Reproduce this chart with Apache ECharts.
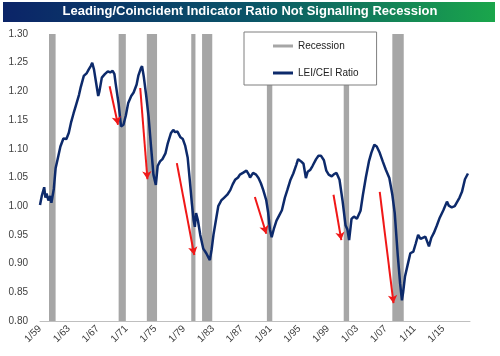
<!DOCTYPE html>
<html>
<head>
<meta charset="utf-8">
<script src="https://cdn.jsdelivr.net/npm/echarts@6/dist/echarts.min.js"></script>
<style>html,body{margin:0;padding:0;background:#fff;}#c{width:500px;height:356px;}</style>
</head>
<body>
<div id="c"></div>
<script>
var titleText = 'Leading/Coincident Indicator Ratio Not Signalling Recession';
var seriesName = 'LEI/CEI Ratio';
var recessionName = 'Recession';

var months = ['1959-01','1959-04','1959-08','1959-10','1959-12','1960-03','1960-06','1960-08','1960-12','1961-03','1961-07','1961-11','1962-04','1962-09','1963-01','1963-05','1963-09','1964-01','1964-06','1964-09','1965-02','1965-07','1965-10','1966-02','1966-04','1966-07','1966-10','1967-02','1967-04','1967-08','1968-01','1968-06','1968-10','1969-02','1969-05','1969-07','1969-12','1970-04','1970-08','1970-12','1971-04','1971-09','1972-01','1972-06','1972-09','1973-01','1973-03','1973-06','1973-10','1974-02','1974-06','1974-10','1975-02','1975-05','1975-09','1976-01','1976-06','1976-10','1977-03','1977-07','1977-10','1978-02','1978-07','1978-11','1979-03','1979-07','1979-11','1980-02','1980-05','1980-07','1980-09','1980-12','1981-04','1981-09','1982-02','1982-06','1982-08','1982-11','1983-02','1983-06','1983-10','1984-03','1984-08','1985-01','1985-06','1985-10','1986-02','1986-07','1986-10','1987-03','1987-09','1988-01','1988-03','1988-08','1989-01','1989-05','1989-09','1990-01','1990-06','1990-09','1990-12','1991-03','1991-07','1991-11','1992-04','1992-08','1993-01','1993-05','1993-10','1994-03','1994-08','1994-11','1995-04','1995-08','1995-12','1996-03','1996-07','1996-11','1997-05','1997-09','1998-01','1998-06','1998-10','1999-02','1999-07','1999-11','2000-03','2000-08','2001-01','2001-06','2001-09','2001-12','2002-04','2002-08','2003-01','2003-07','2003-11','2004-04','2004-09','2005-01','2005-06','2005-10','2006-03','2006-08','2007-01','2007-07','2007-12','2008-04','2008-09','2009-01','2009-04','2009-06','2009-09','2010-02','2010-06','2010-11','2011-03','2011-07','2011-11','2012-02','2012-07','2013-01','2013-05','2013-09','2014-02','2014-07','2015-01','2015-07','2015-10','2016-03','2016-08','2016-11','2017-04','2017-08','2018-01','2018-04','2018-06'];

var ratio = [1.002,1.018,1.033,1.015,1.022,1.010,1.018,1.006,1.030,1.066,1.085,1.104,1.118,1.117,1.128,1.147,1.162,1.176,1.194,1.208,1.227,1.232,1.238,1.245,1.250,1.238,1.218,1.192,1.200,1.224,1.230,1.235,1.233,1.236,1.230,1.214,1.178,1.139,1.142,1.158,1.180,1.192,1.198,1.212,1.228,1.240,1.244,1.225,1.192,1.155,1.104,1.055,1.037,1.070,1.078,1.082,1.092,1.110,1.127,1.133,1.129,1.130,1.120,1.117,1.105,1.085,1.040,1.005,0.975,0.964,0.988,0.976,0.950,0.926,0.918,0.910,0.906,0.925,0.950,0.975,1.000,1.010,1.015,1.020,1.028,1.038,1.046,1.050,1.055,1.058,1.062,1.055,1.050,1.058,1.055,1.049,1.040,1.028,1.010,0.990,0.960,0.946,0.962,0.975,0.985,0.993,1.015,1.028,1.045,1.057,1.072,1.082,1.078,1.074,1.049,1.060,1.063,1.070,1.082,1.088,1.088,1.080,1.062,1.055,1.052,1.056,1.058,1.046,1.010,0.967,0.960,0.941,0.978,0.982,0.978,0.992,1.020,1.051,1.078,1.093,1.107,1.104,1.093,1.078,1.064,1.049,1.020,0.988,0.915,0.865,0.836,0.850,0.877,0.900,0.918,0.921,0.935,0.950,0.943,0.942,0.947,0.930,0.945,0.953,0.966,0.980,0.993,1.008,1.001,0.998,1.000,1.003,1.015,1.025,1.047,1.050,1.057];

var recessions = [['1960-04','1961-02'],['1969-12','1970-11'],['1973-11','1975-03'],['1980-01','1980-07'],['1981-07','1982-11'],['1990-07','1991-03'],['2001-03','2001-11'],['2007-12','2009-06']];

// red arrows annotations: [start month, start value, end month, end value]
var arrows = [['1968-09',1.209,'1969-11',1.142],['1972-12',1.206,'1973-12',1.047],['1978-01',1.075,'1980-06',0.915],['1988-11',1.016,'1990-06',0.952],['1999-10',1.020,'2000-11',0.941],['2006-03',1.025,'2008-02',0.831]];

var yTicks = [0.80,0.85,0.90,0.95,1.00,1.05,1.10,1.15,1.20,1.25,1.30];
var baseYear = 1959;

function toT(m){ var p = m.split('-'); return (+p[0] - baseYear) + (+p[1] - 1) / 12; }

var lineData = months.map(function(m,i){ return [toT(m), ratio[i]]; });
var recAreas = recessions.map(function(r){ return [{xAxis: toT(r[0])}, {xAxis: toT(r[1]) + 1/12}]; });
var arrowLines = arrows.map(function(a){ return [{coord:[toT(a[0]), a[1]]},{coord:[toT(a[2]), a[3]]}]; });

var chart = echarts.init(document.getElementById('c'), null, {renderer:'canvas'});
var font = 'Liberation Sans';
chart.setOption({
  animation: false,
  backgroundColor: '#fff',
  textStyle: {fontFamily: font},
  graphic: [
    {type:'rect', left:3, top:2, shape:{width:492, height:20}, z:10,
     style:{fill: new echarts.graphic.LinearGradient(0,0,1,0,[{offset:0,color:'#0b2468'},{offset:0.5,color:'#0a5468'},{offset:1,color:'#1aa64b'}])}},
    {type:'text', left:'center', top:5, z:11,
     style:{text: titleText, fill:'#fff', font:'bold 13px "Liberation Sans"'}}
  ],
  legend: {
    orient:'vertical', left:244, top:32,
    padding:[9,18,7,29], itemGap:17,
    itemWidth:20, itemHeight:3,
    borderColor:'#7f7f7f', borderWidth:1, backgroundColor:'#fff',
    textStyle:{fontSize:10, color:'#222', fontFamily:font},
    data:[{name:recessionName, icon:'rect', itemStyle:{color:'#a6a6a6'}},{name:seriesName, icon:'rect'}],
    z: 20
  },
  grid: {left:40, right:30, top:34, bottom:35},
  xAxis: {
    type:'value', min:0, max:59.7, interval:4,
    axisLine:{show:true, lineStyle:{color:'#bfbfbf', width:1}},
    axisTick:{show:false}, splitLine:{show:false},
    axisLabel:{rotate:45, margin:6, fontSize:10, color:'#404040', fontFamily:font, showMaxLabel:false,
      formatter:function(v){ var y = (baseYear + Math.round(v)) % 100; return '1/' + (y<10?'0':'') + y; }}
  },
  yAxis: {
    type:'value', min:yTicks[0], max:yTicks[yTicks.length-1], interval:0.05,
    axisLine:{show:false}, axisTick:{show:false}, splitLine:{show:false},
    axisLabel:{margin:12, fontSize:10, color:'#404040', fontFamily:font, formatter:function(v){return v.toFixed(2);}}
  },
  series: [
    {name:recessionName, type:'line', data:[], itemStyle:{color:'#a6a6a6'},
     markArea:{silent:true, itemStyle:{color:'#a6a6a6', opacity:1}, data:recAreas}},
    {name:seriesName, type:'line', data:lineData, showSymbol:false, symbol:'none',
     lineStyle:{color:'#0d2a6b', width:2.5}, itemStyle:{color:'#0d2a6b'}, z:3,
     markLine:{silent:true, symbol:['none','arrow'], symbolSize:[7,8], label:{show:false},
       lineStyle:{color:'#f01818', width:2, type:'solid'}, data:arrowLines}}
  ]
});
</script>
</body>
</html>
